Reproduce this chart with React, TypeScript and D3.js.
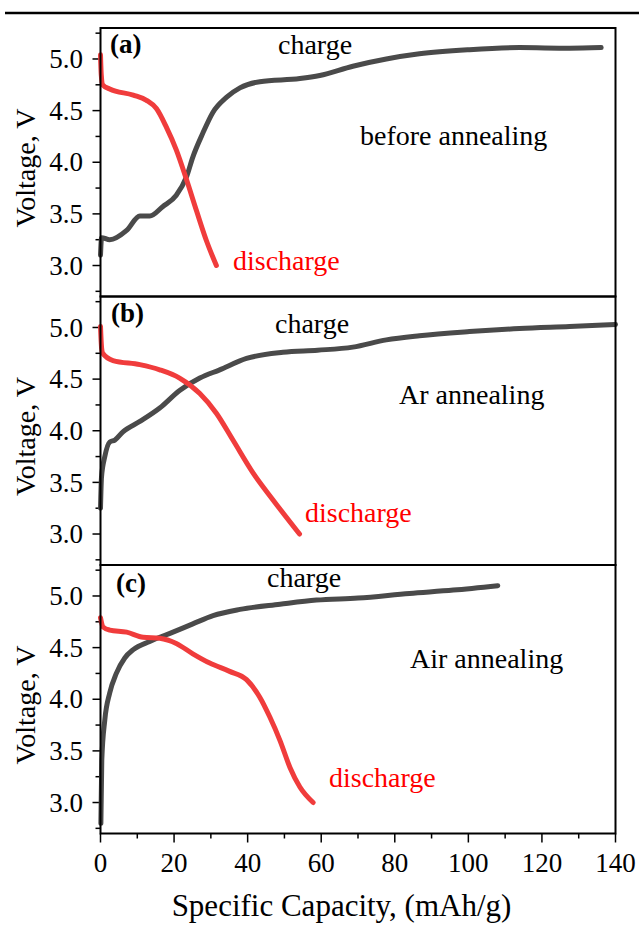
import * as d3 from 'd3'

// capacity (mAh/g), voltage (V)
const chargeA: [number, number][] = [
  [0, 3.1], [0.3, 3.27], [2.5, 3.25], [7.1, 3.34], [10.7, 3.48], [13.4, 3.48],
  [16.9, 3.57], [20.6, 3.68], [23.4, 3.86], [25.1, 4.05], [27.8, 4.28], [30.5, 4.48],
  [34.3, 4.63], [37.9, 4.72], [43.3, 4.78], [54.2, 4.81], [59.6, 4.84], [68.6, 4.93],
  [77.7, 5.0], [86.7, 5.05], [100.3, 5.09], [113.9, 5.11], [127.5, 5.105], [136.1, 5.11],
]
const dischargeA: [number, number][] = [
  [0, 5.04], [0.2, 4.85], [0.6, 4.75], [2.5, 4.71], [8.9, 4.65], [12.5, 4.6],
  [15.2, 4.52], [17.9, 4.34], [20.6, 4.12], [23.4, 3.83], [26.1, 3.53], [28.8, 3.24],
  [31.5, 3.0],
]
const chargeB: [number, number][] = [
  [0, 3.25], [0.27, 3.55], [1.17, 3.75], [2.5, 3.89], [3.9, 3.91], [6.1, 3.99],
  [10.7, 4.09], [16.1, 4.22], [21.5, 4.39], [27.0, 4.51], [32.4, 4.59], [39.7, 4.7],
  [49.6, 4.76], [59.0, 4.78], [68.6, 4.81], [77.7, 4.88], [86.7, 4.92], [100.3, 4.96],
  [113.9, 4.99], [127.5, 5.01], [140, 5.03],
]
const dischargeB: [number, number][] = [
  [0, 5.01], [0.3, 4.8], [0.6, 4.75], [3.4, 4.68], [10.7, 4.64], [16.1, 4.59],
  [21.5, 4.51], [27.0, 4.36], [31.5, 4.17], [36.0, 3.91], [41.5, 3.59], [46.9, 3.33],
  [54.1, 3.0],
]
const chargeC: [number, number][] = [
  [0.1, 2.8], [0.35, 3.41], [1.17, 3.8], [2.5, 4.06], [4.3, 4.25], [6.6, 4.4],
  [8.9, 4.48], [13.4, 4.56], [19.7, 4.65], [25.1, 4.73], [30.6, 4.81], [37.9, 4.87],
  [48.8, 4.92], [58.7, 4.96], [70, 4.98], [84, 5.025], [95.9, 5.057], [108, 5.1],
]
const dischargeC: [number, number][] = [
  [0, 4.79], [0.7, 4.7], [2.5, 4.67], [7.1, 4.65], [11.6, 4.6], [16.1, 4.59],
  [20.6, 4.54], [25.1, 4.44], [29.7, 4.35], [35.1, 4.27], [39.7, 4.19], [43.3, 4.02],
  [46.0, 3.83], [48.8, 3.6], [51.5, 3.34], [54.2, 3.15], [57.8, 3.0],
]

const panelLetters = ['(a)', '(b)', '(c)']
const conditions = ['before annealing', 'Ar annealing', 'Air annealing']
const xTicks = [0, 20, 40, 60, 80, 100, 120, 140]
const yTicks = [3.0, 3.5, 4.0, 4.5, 5.0]

// label placement, pixels relative to the panel (x absolute, dy from panel top)
const layout = [
  { letter: [110, 25], charge: [278, 26], cond: [360, 117], dis: [233, 242] },
  { letter: [111, 25], charge: [275, 36], cond: [399, 107], dis: [305, 225] },
  { letter: [116, 27], charge: [267, 22], cond: [410, 103], dis: [329, 222] },
]

const W = 639
const H = 926
const left = 100.5
const right = 615.5
const top0 = 28
const ph = 268.5

export default function App() {
  const x = d3.scaleLinear([0, 140], [left, right])
  const series = [
    [chargeA, dischargeA],
    [chargeB, dischargeB],
    [chargeC, dischargeC],
  ]
  const xMinor = d3.range(0, 141, 10)
  const yMinor = d3.range(2.75, 5.3, 0.25)
  const bottom = top0 + 3 * ph

  return (
    <div style={{ position: 'absolute', left: 0, top: 0 }}>
      <svg width={W} height={H} style={{ display: 'block' }}>
        <style>{`text { font-family: 'Liberation Serif', 'Times New Roman', serif; }`}</style>
        <rect width={W} height={H} fill="white" />
        <line x1={5} x2={639} y1={13} y2={13} stroke="black" strokeWidth={2.5} />
        {series.map(([ch, dis], i) => {
          const t = top0 + i * ph
          const y = d3.scaleLinear([2.7, 5.3], [t + ph, t])
          const line = d3
            .line<[number, number]>()
            .x((d) => x(d[0]))
            .y((d) => y(d[1]))
            .curve(d3.curveMonotoneX)
          const L = layout[i]
          return (
            <g key={i}>
              {yMinor.map((v) => {
                const major = Math.abs(v * 2 - Math.round(v * 2)) < 1e-6
                return (
                  <line
                    key={v}
                    x1={left - (major ? 8 : 5)}
                    x2={left}
                    y1={y(v)}
                    y2={y(v)}
                    stroke="black"
                    strokeWidth={1.5}
                  />
                )
              })}
              {yTicks.map((v) => (
                <text
                  key={v}
                  x={83}
                  y={y(v)}
                  dy="0.34em"
                  textAnchor="end"
                  fontSize={27}
                >
                  {v.toFixed(1)}
                </text>
              ))}
              <text
                transform={`translate(35,${t + 140}) rotate(-90)`}
                textAnchor="middle"
                fontSize={28}
              >
                Voltage, V
              </text>
              <path
                d={line(ch) || undefined}
                fill="none"
                stroke="#4a4a4a"
                strokeWidth={5}
                strokeLinecap="round"
                strokeLinejoin="round"
              />
              <path
                d={line(dis) || undefined}
                fill="none"
                stroke="#f03c3c"
                strokeWidth={5}
                strokeLinecap="round"
                strokeLinejoin="round"
              />
              <rect
                x={left}
                y={t}
                width={right - left}
                height={ph}
                fill="none"
                stroke="black"
                strokeWidth={2}
              />
              <text x={L.letter[0]} y={t + L.letter[1]} fontSize={27} fontWeight="bold">
                {panelLetters[i]}
              </text>
              <text x={L.charge[0]} y={t + L.charge[1]} fontSize={28}>
                charge
              </text>
              <text x={L.cond[0]} y={t + L.cond[1]} fontSize={28}>
                {conditions[i]}
              </text>
              <text x={L.dis[0]} y={t + L.dis[1]} fontSize={28} fill="red">
                discharge
              </text>
            </g>
          )
        })}
        {xMinor.map((v) => (
          <line
            key={v}
            x1={x(v)}
            x2={x(v)}
            y1={bottom}
            y2={bottom + (v % 20 === 0 ? 9 : 5)}
            stroke="black"
            strokeWidth={1.5}
          />
        ))}
        {xTicks.map((v) => (
          <text key={v} x={x(v)} y={872} textAnchor="middle" fontSize={27}>
            {v}
          </text>
        ))}
        <text x={341.5} y={916} textAnchor="middle" fontSize={31}>
          Specific Capacity, (mAh/g)
        </text>
      </svg>
    </div>
  )
}
